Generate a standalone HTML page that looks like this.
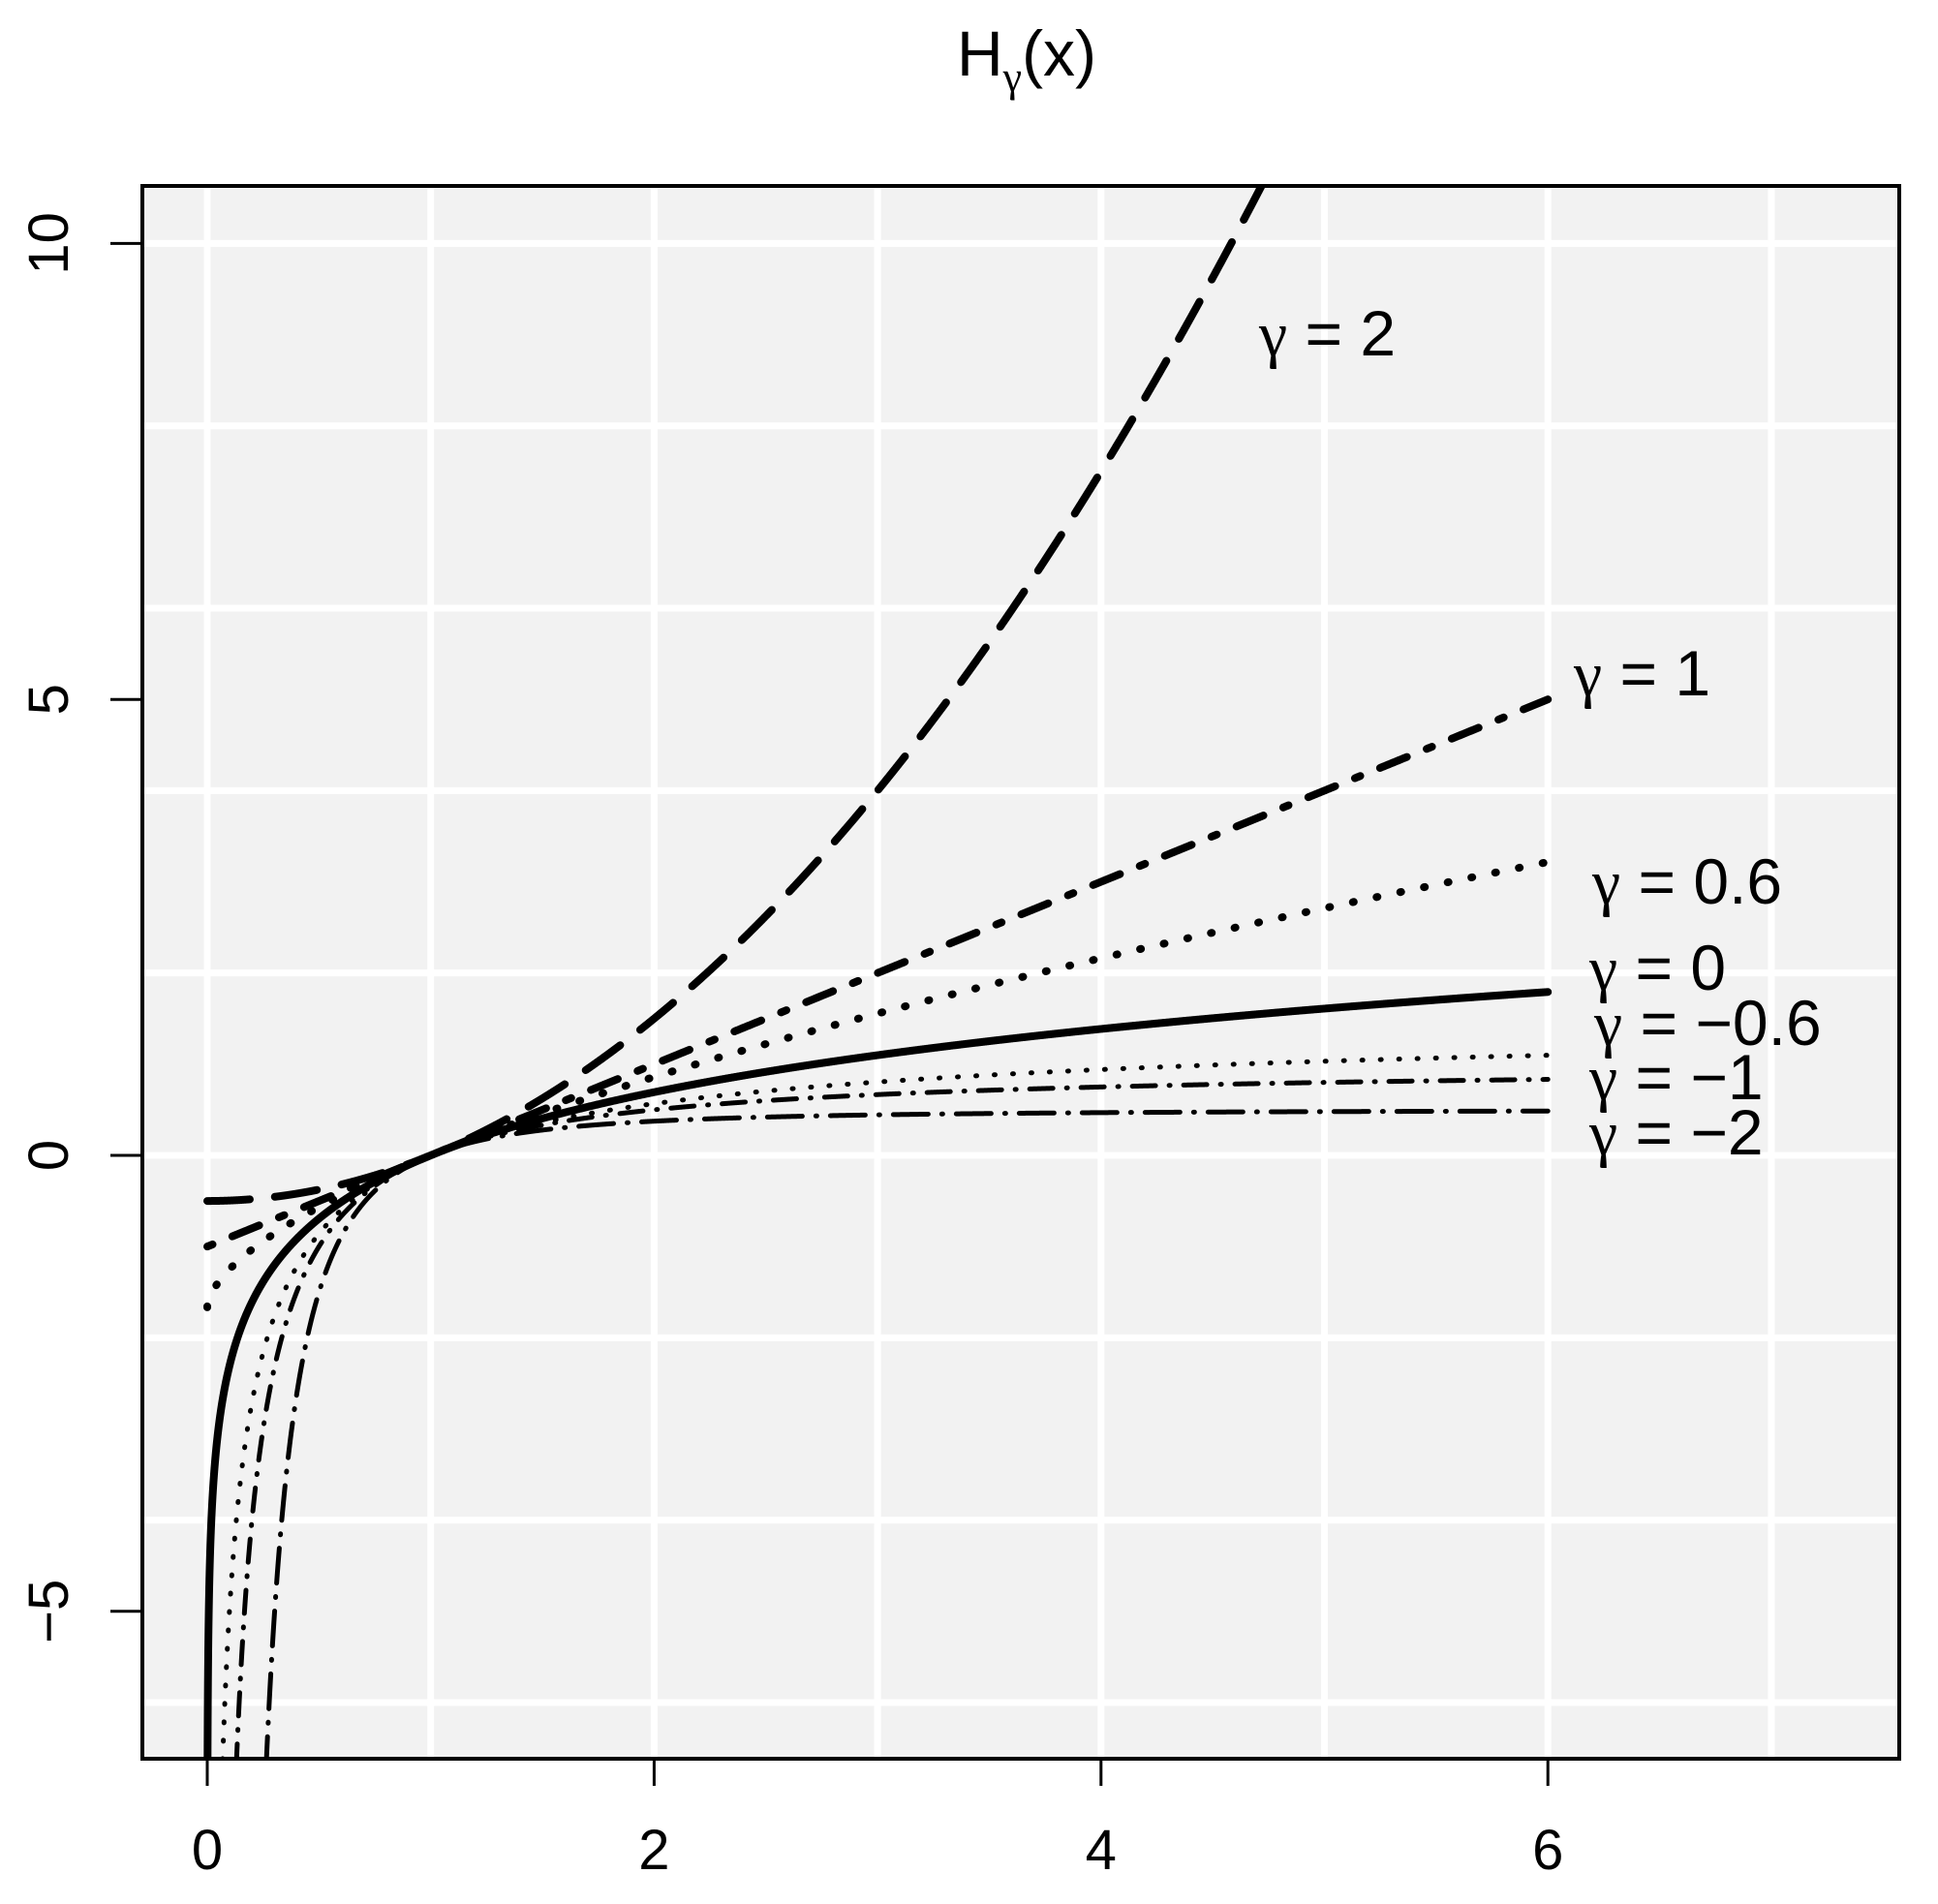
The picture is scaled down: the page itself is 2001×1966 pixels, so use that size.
<!DOCTYPE html>
<html><head><meta charset="utf-8">
<style>
html,body{margin:0;padding:0;background:#fff;overflow:hidden;width:2001px;height:1966px;}
svg{display:block;position:absolute;left:0;top:0;}
text{font-family:"Liberation Sans",sans-serif;fill:#000;}
.g{font-family:"Liberation Serif",serif;}
</style></head>
<body>
<svg id="s" width="2001" height="1966" viewBox="0 0 2001 1966" xmlns="http://www.w3.org/2000/svg">
<defs><clipPath id="c"><rect x="147" y="192" width="1814" height="1624"/></clipPath></defs>
<rect x="147" y="192" width="1814" height="1624" fill="#f2f2f2"/>
<g id="grid" stroke="#fff" stroke-width="7"></g>
<g id="curves" clip-path="url(#c)" fill="none" stroke="#000" stroke-linecap="round" stroke-linejoin="round"></g>
<rect x="147" y="192" width="1814" height="1624" fill="none" stroke="#000" stroke-width="4"/>
<g id="ticks" stroke="#000" stroke-width="3"></g>
<g font-size="58" text-anchor="middle" id="labs"></g>
<text x="1060" y="78" font-size="66" text-anchor="middle">H<tspan class="g" font-size="44" dy="16">γ</tspan><tspan dy="-16">(x)</tspan></text>
<g font-size="66">
<text x="1300" y="367"><tspan class="g">γ</tspan> = 2</text>
<text x="1625" y="718"><tspan class="g">γ</tspan> = 1</text>
<text x="1644" y="933"><tspan class="g">γ</tspan> = 0.6</text>
<text x="1641" y="1022"><tspan class="g">γ</tspan> = 0</text>
<text x="1646" y="1079"><tspan class="g">γ</tspan> = −0.6</text>
<text x="1641" y="1135"><tspan class="g">γ</tspan> = −1</text>
<text x="1641" y="1192"><tspan class="g">γ</tspan> = −2</text>
</g>
</svg>
<script>
var NS="http://www.w3.org/2000/svg";
function X(x){return 214+x*230.7;}
function Y(y){return 1193-y*94.16;}
function el(p,t,a){var e=document.createElementNS(NS,t);for(var k in a)e.setAttribute(k,a[k]);p.appendChild(e);return e;}
var g=document.getElementById('grid');
for(var i=0;i<=7;i++)el(g,'line',{x1:X(i),x2:X(i),y1:192,y2:1816});
for(var j=-6;j<=10;j+=2)el(g,'line',{x1:147,x2:1961,y1:Y(j),y2:Y(j)});
var t=document.getElementById('ticks'),l=document.getElementById('labs');
[0,2,4,6].forEach(function(v){el(t,'line',{x1:X(v),x2:X(v),y1:1816,y2:1844});var e=el(l,'text',{x:X(v),y:1930});e.textContent=v;});
[-5,0,5,10].forEach(function(v){el(t,'line',{x1:114,x2:147,y1:Y(v),y2:Y(v)});var e=el(l,'text',{x:0,y:0,transform:'translate(70,'+Y(v)+') rotate(-90)'});e.textContent=(v<0?'−':'')+Math.abs(v);});
var cs=[
 [2,8,'44 26'],[1,8,'6 22 30 22'],[0.6,8,'1 24'],[0,8,''],
 [-0.6,5,'1 18'],[-1,5,'24 14 1 14'],[-2,5,'36 14 1 14']];
var cv=document.getElementById('curves');
cs.forEach(function(c){
 var gm=c[0],d='';
 for(var k=0;k<=3000;k++){
  var x=6*Math.pow(k/3000,2);
  var y;
  if(gm==0){y=x>0?Math.log(x):-50;}else if(x==0){y=gm>0?-1/gm:-50;}else{y=(Math.pow(x,gm)-1)/gm;}
  if(y<-50)y=-50; if(y>30)y=30;
  d+=(k?'L':'M')+X(x).toFixed(2)+' '+Y(y).toFixed(2);
 }
 var a={d:d,'stroke-width':c[1]};if(c[2])a['stroke-dasharray']=c[2];
 el(cv,'path',a);
});
</script>
</body></html>
